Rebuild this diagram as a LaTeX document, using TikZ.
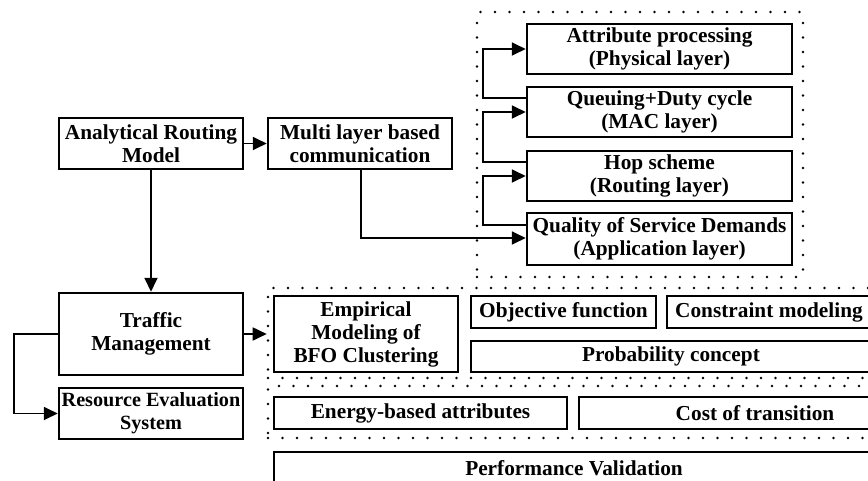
\documentclass[tikz,border=0pt]{standalone}
\usepackage{fontspec}
\setmainfont{Liberation Serif}
\usetikzlibrary{arrows.meta}
\tikzset{
  blk/.style={draw, line width=2.5pt, align=center, inner sep=0pt,
    font=\fontsize{21.3}{23}\selectfont\bfseries},
  grp/.style={draw, line width=2.6pt, line cap=round, dash pattern=on 0pt off 14.5pt, inner sep=0pt},
  conn/.style={line width=1.8pt, -{Triangle[length=14pt,width=13pt]}},
}
\begin{document}
\begin{tikzpicture}[x=1pt, y=-1pt]
\useasboundingbox (0,0) rectangle (868,480);
\clip (0,0) rectangle (868,480);
% dotted groups
\node[grp, minimum width=326, minimum height=265] (layers) at (640,144.5) {};
\node[grp, minimum width=632, minimum height=90] (bfo) at (584,333) {};
\node[grp, minimum width=632, minimum height=52] (cost) at (584,412) {};
% left column
\node[blk, minimum width=184, minimum height=51] (arm) at (151,143.5) {Analytical Routing\\Model};
\node[blk, minimum width=184, minimum height=51] (mlc) at (360,143.5) {Multi layer based\\communication};
\node[blk, minimum width=184, minimum height=82] (tm) at (151,334) {Traffic\\Management};
\node[blk, minimum width=184, minimum height=51, font=\fontsize{20.2}{23}\selectfont\bfseries] (res) at (151,413.5) {Resource Evaluation\\System};
% protocol layers
\node[blk, minimum width=265, minimum height=50] (phy) at (659.5,49) {Attribute processing\\(Physical layer)};
\node[blk, minimum width=265, minimum height=50] (mac) at (659.5,112) {Queuing+Duty cycle\\(MAC layer)};
\node[blk, minimum width=265, minimum height=50] (hop) at (659.5,176) {Hop scheme\\(Routing layer)};
\node[blk, minimum width=265, minimum height=52] (qos) at (659.5,239) {Quality of Service Demands\\(Application layer)};
% clustering
\node[blk, minimum width=184, minimum height=76] (emp) at (366,334) {Empirical\\Modeling of\\BFO Clustering};
\node[blk, minimum width=185, minimum height=32] (obj) at (563.5,312) {Objective function};
\node[blk, minimum width=204, minimum height=32] (con) at (769,312) {Constraint modeling};
\node[blk, minimum width=400, minimum height=31] (prob) at (671,356.5) {Probability concept};
\node[blk, minimum width=293, minimum height=32] (eng) at (420.5,413) {Energy-based attributes};
\node[blk, minimum width=352, minimum height=32] (cot) at (755,413) {Cost of transition};
\node[blk, minimum width=600, minimum height=32] (perf) at (574,468) {Performance Validation};
% connectors
\draw[conn] (arm.east) -- (mlc.west);
\draw[conn] (arm.south) -- (tm.north);
\draw[conn] (tm.west) -- ++(-44,0) |- (res.west);
\draw[conn] (tm.east) -- (tm.east -| bfo.west);
\draw[conn] ([xshift=1pt]mlc.south) |- ([yshift=1pt]qos.west);
\draw[conn] ([yshift=14pt]qos.west) -- ++(-43,0) |- (hop.west);
\draw[conn] ([yshift=14pt]hop.west) -- ++(-43,0) |- (mac.west);
\draw[conn] ([yshift=14pt]mac.west) -- ++(-43,0) |- (phy.west);
\end{tikzpicture}
\end{document}
